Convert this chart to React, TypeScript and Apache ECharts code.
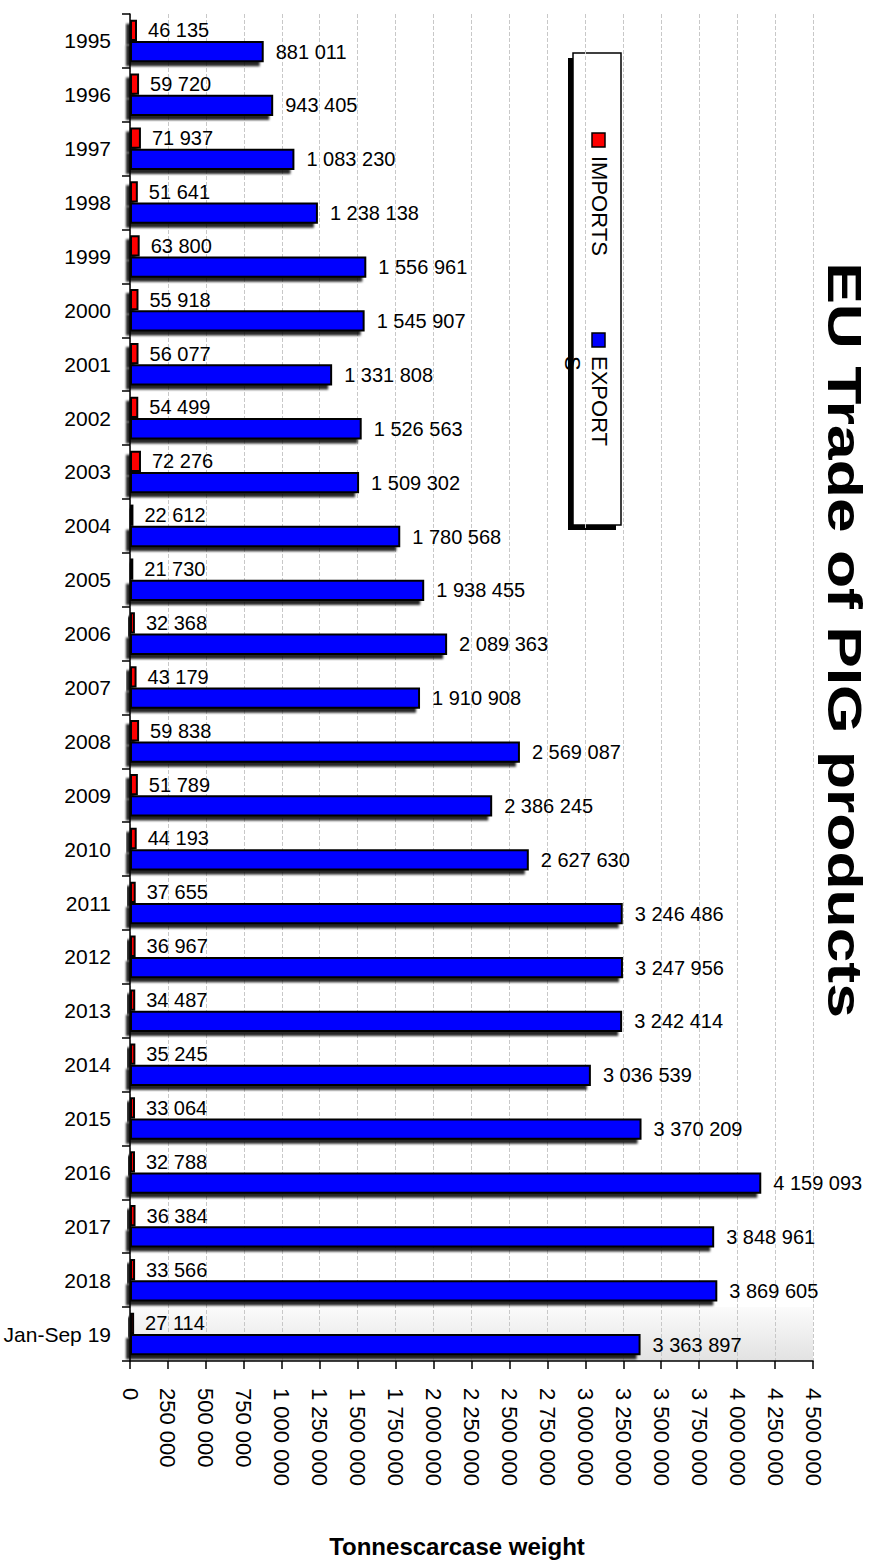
import React, { useEffect, useRef } from 'react';
import * as echarts from 'echarts';

const categories = [
  '1995', '1996', '1997', '1998', '1999', '2000', '2001', '2002', '2003', '2004',
  '2005', '2006', '2007', '2008', '2009', '2010', '2011', '2012', '2013', '2014',
  '2015', '2016', '2017', '2018', 'Jan-Sep 19',
];
const importsValues = [
  46135, 59720, 71937, 51641, 63800, 55918, 56077, 54499, 72276, 22612,
  21730, 32368, 43179, 59838, 51789, 44193, 37655, 36967, 34487, 35245,
  33064, 32788, 36384, 33566, 27114,
];
const exportsValues = [
  881011, 943405, 1083230, 1238138, 1556961, 1545907, 1331808, 1526563, 1509302, 1780568,
  1938455, 2089363, 1910908, 2569087, 2386245, 2627630, 3246486, 3247956, 3242414, 3036539,
  3370209, 4159093, 3848961, 3869605, 3363897,
];
const seriesNames = ['IMPORTS', 'EXPORTS'];
const legendLabels = ['IMPORTS', 'EXPORT\nS'];
const seriesColors = ['#ff0000', '#0000ff'];
const xMin = 0;
const xMax = 4500000;
const xInterval = 250000;
const chartTitle = 'EU Trade of PIG products';
const xAxisName = 'Tonnescarcase weight';

const FONT = '"Liberation Sans", Arial, Helvetica, sans-serif';

const fmt = (v: number) => String(Math.round(v)).replace(/\B(?=(\d{3})+(?!\d))/g, ' ');

export default function App() {
  const ref = useRef<HTMLDivElement>(null);

  useEffect(() => {
    if (!ref.current) return;
    const chart = echarts.init(ref.current, undefined, { renderer: 'svg' });

    const bandColors = categories.map((c, i) =>
      i === categories.length - 1
        ? new echarts.graphic.LinearGradient(0, 0, 0, 1, [
            { offset: 0, color: '#fbfbfb' },
            { offset: 1, color: '#e2e2e2' },
          ])
        : 'rgba(0,0,0,0)'
    );

    const barSeries = [importsValues, exportsValues].map((vals, i) => ({
      name: seriesNames[i],
      type: 'bar',
      data: vals,
      barGap: '0%',
      barCategoryGap: '21%',
      itemStyle: {
        color: seriesColors[i],
        borderColor: '#000',
        borderWidth: 2,
        shadowColor: 'rgba(0,0,0,0.85)',
        shadowBlur: 2,
        shadowOffsetX: -4,
        shadowOffsetY: 4,
      },
      label: {
        show: true,
        position: 'right',
        distance: i === 0 ? 11 : 12,
        formatter: (p: any) => fmt(p.value),
        fontFamily: FONT,
        fontSize: 20,
        color: '#000',
      },
    }));

    const legendGraphics: any[] = [
      {
        type: 'rect',
        shape: { x: 568, y: 58, width: 48, height: 472 },
        style: { fill: '#000' },
      },
      {
        type: 'rect',
        shape: { x: 573, y: 53, width: 48, height: 472 },
        style: { fill: '#fff', stroke: '#000', lineWidth: 1.5 },
      },
    ];
    const legendTops = [133, 333];
    seriesNames.forEach((n, i) => {
      legendGraphics.push({
        type: 'rect',
        shape: { x: 592, y: legendTops[i], width: 13, height: 14 },
        style: { fill: seriesColors[i], stroke: '#000', lineWidth: 1.5 },
      });
      legendGraphics.push({
        type: 'text',
        x: 613,
        y: legendTops[i] + 23,
        rotation: -Math.PI / 2,
        style: {
          text: legendLabels[i],
          x: 0,
          y: 0,
          align: 'left',
          verticalAlign: 'top',
          lineHeight: 27,
          fontSize: 22,
          fontFamily: FONT,
          fill: '#000',
        },
      });
    });

    const option: any = {
      animation: false,
      backgroundColor: '#fff',
      textStyle: { fontFamily: FONT },
      grid: { left: 130, right: 58, top: 14, bottom: 203, containLabel: false },
      xAxis: {
        type: 'value',
        min: xMin,
        max: xMax,
        interval: xInterval,
        name: xAxisName,
        nameLocation: 'middle',
        nameGap: 185,
        nameTextStyle: {
          fontFamily: FONT,
          fontSize: 24,
          fontWeight: 'bold',
          color: '#000',
          verticalAlign: 'middle',
          padding: [0, 29, 0, 0],
        },
        axisLine: { show: true, lineStyle: { color: '#000', width: 1.5 } },
        axisTick: { show: true, length: 8, lineStyle: { color: '#000', width: 1.5 } },
        axisLabel: {
          rotate: -90,
          margin: 27,
          fontSize: 22,
          fontFamily: FONT,
          color: '#000',
          formatter: (v: number) => fmt(v),
        },
        splitLine: { show: true, lineStyle: { color: '#c8c8c8', type: 'dashed', width: 1 } },
      },
      yAxis: {
        type: 'category',
        data: categories,
        inverse: true,
        axisLine: { show: true, lineStyle: { color: '#000', width: 1.5 } },
        axisTick: { show: true, length: 8, lineStyle: { color: '#000', width: 1.5 } },
        axisLabel: { margin: 19, fontSize: 21, fontFamily: FONT, color: '#000' },
        splitLine: { show: false },
        splitArea: { show: true, areaStyle: { color: bandColors } },
      },
      series: barSeries,
      graphic: [
        ...legendGraphics,
        {
          type: 'text',
          x: 844,
          y: 640,
          rotation: -Math.PI / 2,
          scaleX: 1.3,
          scaleY: 1,
          style: {
            text: chartTitle,
            x: 0,
            y: 0,
            align: 'center',
            verticalAlign: 'middle',
            fontSize: 48,
            fontWeight: 'bold',
            fontFamily: FONT,
            fill: '#000',
          },
        },
      ],
    };

    chart.setOption(option);
    return () => chart.dispose();
  }, []);

  return (
    <div
      ref={ref}
      style={{ position: 'fixed', left: 0, top: 0, width: 871, height: 1564, background: '#fff' }}
    />
  );
}
